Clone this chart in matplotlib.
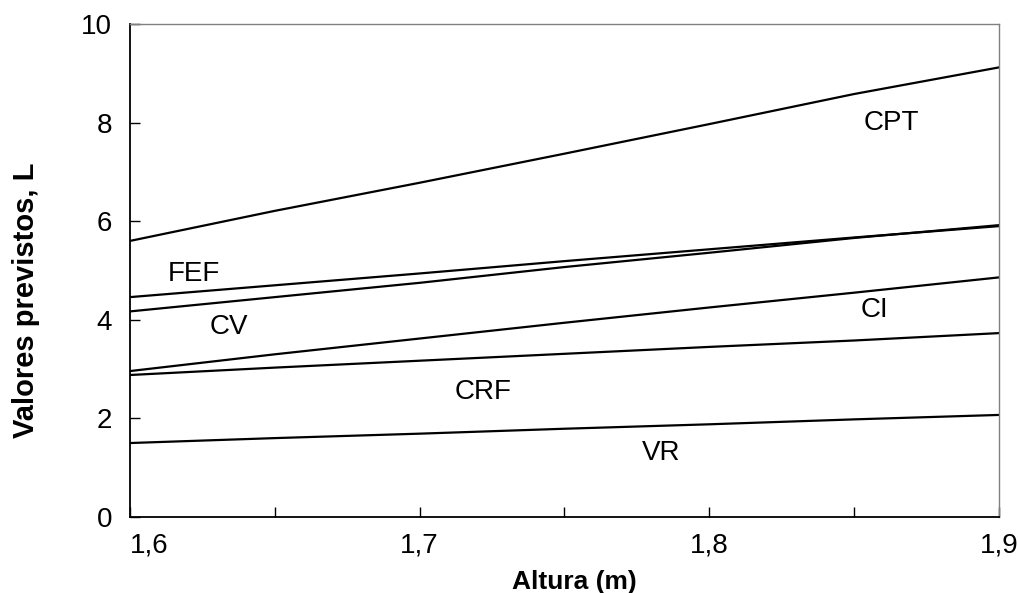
import matplotlib
matplotlib.use('Agg')
import matplotlib.pyplot as plt

plt.rcParams['font.family'] = ['Liberation Sans', 'DejaVu Sans']

# altura (m) e valores previstos (L)
altura = [1.60, 1.65, 1.70, 1.75, 1.80, 1.85, 1.90]
cpt = [5.60, 6.21, 6.78, 7.37, 7.97, 8.58, 9.12]
fef = [4.46, 4.70, 4.94, 5.19, 5.43, 5.67, 5.90]
cv = [4.17, 4.46, 4.75, 5.07, 5.36, 5.66, 5.92]
ci = [2.96, 3.30, 3.62, 3.94, 4.25, 4.55, 4.86]
crf = [2.88, 3.03, 3.17, 3.31, 3.45, 3.58, 3.73]
vr = [1.50, 1.60, 1.69, 1.79, 1.88, 1.98, 2.07]

series = [cpt, fef, cv, ci, crf, vr]
labels = ['CPT', 'FEF', 'CV', 'CI', 'CRF', 'VR']
label_pos = [(1.863, 8.00), (1.622, 4.93), (1.634, 3.85),
             (1.857, 4.19), (1.722, 2.54), (1.7835, 1.29)]

xticks = [1.60, 1.65, 1.70, 1.75, 1.80, 1.85, 1.90]
xticklabels = ['1,6', '', '1,7', '', '1,8', '', '1,9']
yticks = [0, 2, 4, 6, 8, 10]

fig = plt.figure(figsize=(10.18, 5.93), dpi=100)
ax = fig.add_axes([0.1277, 0.1282, 0.8536, 0.8313])

for s in series:
    ax.plot(altura, s, color='black', lw=1.6)

for name, (x, y) in zip(labels, label_pos):
    ax.text(x, y, name, fontsize=20, ha='center', va='center')

ax.set_xlim(1.6, 1.9)
ax.set_ylim(0, 10)
ax.set_xticks(xticks)
ax.set_xticklabels(xticklabels)
ax.set_yticks(yticks)
ax.tick_params(direction='in', length=7, width=1, labelsize=20)
ax.tick_params(axis='x', pad=11)
ax.tick_params(axis='y', pad=13)
ax.xaxis.get_major_ticks()[0].label1.set_horizontalalignment('left')

for side in ['top', 'right']:
    ax.spines[side].set_color('#808080')
    ax.spines[side].set_linewidth(1)
for side in ['left', 'bottom']:
    ax.spines[side].set_color('black')
    ax.spines[side].set_linewidth(1.3)

ax.set_xlabel('Altura (m)', fontsize=19, fontweight='bold')
ax.xaxis.set_label_coords(0.511, -0.108)
ax.set_ylabel('Valores previstos, L', fontsize=21, fontweight='bold')
ax.yaxis.set_label_coords(-0.104, 0.44)

plt.savefig('out.png', dpi=100)
